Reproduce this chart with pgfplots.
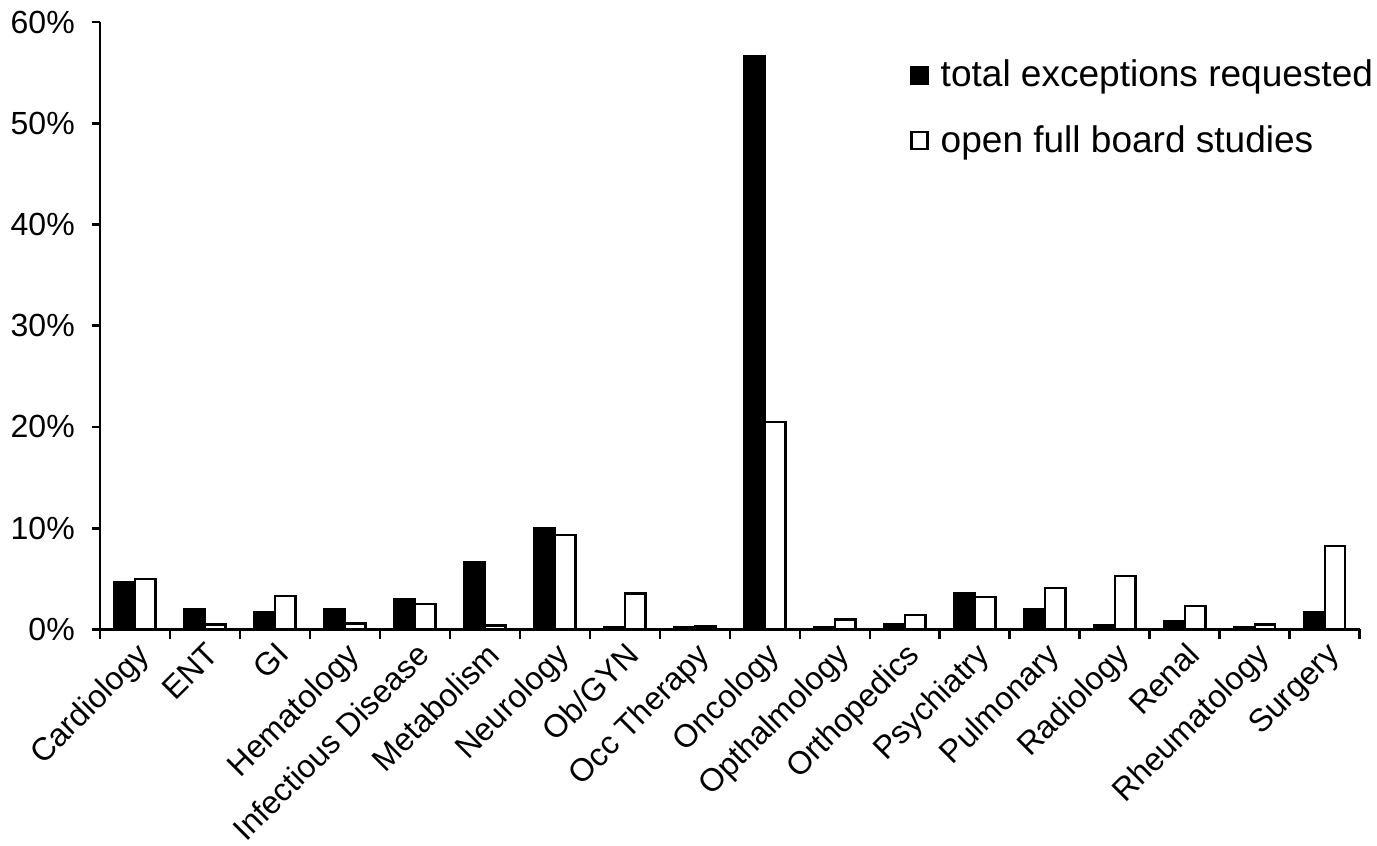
\documentclass[border=0pt]{standalone}
\usepackage{fontspec}
\setmainfont{Liberation Sans}
\usepackage{pgfplots}
\pgfplotsset{compat=1.18}
\usepackage{pgfplotstable}
\pgfplotstableread{
x exc open
0 4.7 5.0
1 2.0 0.5
2 1.7 3.3
3 2.0 0.6
4 3.0 2.5
5 6.6 0.4
6 10.0 9.35
7 0.2 3.55
8 0.2 0.3
9 56.6 20.5
10 0.2 1.0
11 0.5 1.45
12 3.6 3.2
13 2.0 4.1
14 0.45 5.3
15 0.8 2.3
16 0.2 0.5
17 1.7 8.25
}\data
\begin{document}
\fontsize{16}{19}\selectfont
\begin{tikzpicture}
\begin{axis}[
  scale only axis,
  width=629.5pt, height=303.5pt,
  ybar=0pt, bar width=10.25pt,
  xmin=-0.5, xmax=17.5, ymin=0, ymax=60,
  axis lines*=left,
  axis line style={line width=1.3pt},
  every tick/.style={line width=1.3pt, black},
  tick align=outside,
  xtick={0,...,17},
  xticklabels={Cardiology,ENT,GI,Hematology,Infectious Disease,Metabolism,Neurology,Ob/GYN,Occ Therapy,Oncology,Opthalmology,Orthopedics,Psychiatry,Pulmonary,Radiology,Renal,Rheumatology,Surgery},
  major x tick style={draw=none},
  minor xtick={-0.5,0.5,...,17.5},
  minor tick length=5pt,
  xticklabel style={rotate=45, anchor=north east, inner sep=1pt, font=\fontsize{16}{19}\selectfont},
  ytick={0,10,...,60},
  major tick length=4pt,
  yticklabel={\pgfmathprintnumber{\tick}\%},
  yticklabel style={font=\fontsize{16}{19}\selectfont, xshift=-3pt},
  /pgf/number format/assume math mode=true,
  legend style={draw=none, fill=none, at={(rel axis cs:1.014,0.945)}, anchor=north east,
    font=\fontsize{18.5}{22}\selectfont, row sep=13pt, inner sep=0pt,
    nodes={inner sep=2pt}},
  legend cell align=left,
  legend image code/.code={\draw[#1, line width=1.1pt] (0pt,-4pt) rectangle (8pt,4.5pt); \path (12pt,0pt);},
]
\addplot[fill=black, draw=black, line width=1.2pt] table[x=x, y=exc] {\data};
\addplot[fill=white, draw=black, line width=1.2pt] table[x=x, y=open] {\data};
\legend{total exceptions requested, open full board studies}
\end{axis}
\end{tikzpicture}
\end{document}
